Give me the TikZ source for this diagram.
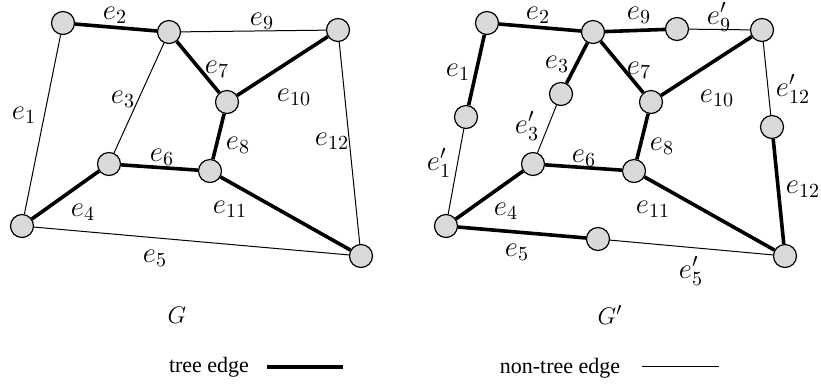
\documentclass[tikz,border=0pt]{standalone}
\usepackage{fontspec}
\setmainfont{Liberation Serif}

\begin{document}
\begin{tikzpicture}[x=0.5pt, y=-0.5pt,
        vtx/.style={circle, draw=black, line width=0.6pt, fill=black!15,
            inner sep=0pt, minimum size=11.5pt},
        tree/.style={line width=1.8pt},
        nontree/.style={line width=0.5pt},
        lbl/.style={font=\fontsize{14.5}{16}\selectfont, inner sep=0pt},
        title/.style={font=\fontsize{13}{15}\selectfont, inner sep=0pt},
        legtxt/.style={font=\fontsize{11}{13}\selectfont, inner sep=0pt}]

        \useasboundingbox (0,0) rectangle (821,388);

        % --- Graph G: vertices ---
        \node[vtx] (u1) at ( 63, 23) {};
        \node[vtx] (u2) at (169, 32) {};
        \node[vtx] (u3) at (338, 30) {};
        \node[vtx] (u4) at (227,102) {};
        \node[vtx] (u5) at (109,164) {};
        \node[vtx] (u6) at (210,171) {};
        \node[vtx] (u7) at ( 22,226) {};
        \node[vtx] (u8) at (361,256) {};

        % --- Graph G: edges ---
        \draw[nontree] (u1) -- (u7);
        \draw[tree]    (u1) -- (u2);
        \draw[nontree] (u2) -- (u5);
        \draw[tree]    (u7) -- (u5);
        \draw[nontree] (u7) -- (u8);
        \draw[tree]    (u5) -- (u6);
        \draw[tree]    (u2) -- (u4);
        \draw[tree]    (u4) -- (u6);
        \draw[nontree] (u2) -- (u3);
        \draw[tree]    (u4) -- (u3);
        \draw[tree]    (u6) -- (u8);
        \draw[nontree] (u3) -- (u8);

        % --- Graph G: edge labels ---
        \node[lbl] (ga1)  at ( 24,115) {$e_{1}$};
        \node[lbl] (ga2)  at (115, 15) {$e_{2}$};
        \node[lbl] (ga3)  at (123, 99) {$e_{3}$};
        \node[lbl] (ga4)  at ( 83,212) {$e_{4}$};
        \node[lbl] (ga5)  at (155,258) {$e_{5}$};
        \node[lbl] (ga6)  at (162,157) {$e_{6}$};
        \node[lbl] (ga7)  at (217, 69) {$e_{7}$};
        \node[lbl] (ga8)  at (238,145) {$e_{8}$};
        \node[lbl] (ga9)  at (262, 21) {$e_{9}$};
        \node[lbl] (ga10) at (294, 97) {$e_{10}$};
        \node[lbl] (ga11) at (230,209) {$e_{11}$};
        \node[lbl] (ga12) at (332,141) {$e_{12}$};

        % --- Graph G': vertices ---
        \node[vtx] (w1) at (487, 23) {};
        \node[vtx] (w2) at (593, 32) {};
        \node[vtx] (w3) at (762, 30) {};
        \node[vtx] (w4) at (651,102) {};
        \node[vtx] (w5) at (533,164) {};
        \node[vtx] (w6) at (634,171) {};
        \node[vtx] (w7) at (446,226) {};
        \node[vtx] (w8) at (785,256) {};

        % --- Graph G': subdivision vertices ---
        \node[vtx] (s1)  at (466,117) {};
        \node[vtx] (s3)  at (561, 94) {};
        \node[vtx] (s5)  at (598,239) {};
        \node[vtx] (s9)  at (677, 29) {};
        \node[vtx] (s12) at (772,127) {};

        % --- Graph G': edges ---
        \draw[tree]    (w1) -- (s1);
        \draw[nontree] (s1) -- (w7);
        \draw[tree]    (w1) -- (w2);
        \draw[tree]    (w2) -- (s3);
        \draw[nontree] (s3) -- (w5);
        \draw[tree]    (w7) -- (w5);
        \draw[tree]    (w7) -- (s5);
        \draw[nontree] (s5) -- (w8);
        \draw[tree]    (w5) -- (w6);
        \draw[tree]    (w2) -- (w4);
        \draw[tree]    (w4) -- (w6);
        \draw[tree]    (w2) -- (s9);
        \draw[nontree] (s9) -- (w3);
        \draw[tree]    (w4) -- (w3);
        \draw[tree]    (w6) -- (w8);
        \draw[nontree] (w3) -- (s12);
        \draw[tree]    (s12) -- (w8);

        % --- Graph G': edge labels ---
        \node[lbl] (gb1)  at (458, 72) {$e_{1}$};
        \node[lbl] (gb1p) at (439,163) {$e_{1}'$};
        \node[lbl] (gb2)  at (538, 15) {$e_{2}$};
        \node[lbl] (gb3)  at (557, 64) {$e_{3}$};
        \node[lbl] (gb3p) at (527,126) {$e_{3}'$};
        \node[lbl] (gb4)  at (506,211) {$e_{4}$};
        \node[lbl] (gb5)  at (517,252) {$e_{5}$};
        \node[lbl] (gb5p) at (691,271) {$e_{5}'$};
        \node[lbl] (gb6)  at (584,158) {$e_{6}$};
        \node[lbl] (gb7)  at (639, 70) {$e_{7}$};
        \node[lbl] (gb8)  at (662,146) {$e_{8}$};
        \node[lbl] (gb9)  at (639, 15) {$e_{9}$};
        \node[lbl] (gb9p) at (719, 17) {$e_{9}'$};
        \node[lbl] (gb10) at (717, 98) {$e_{10}$};
        \node[lbl] (gb11) at (653,209) {$e_{11}$};
        \node[lbl] (gb12) at (803,189) {$e_{12}$};
        \node[lbl] (gb12p) at (793, 89) {$e_{12}'$};

        % --- Captions ---
        \node[title] (capG)  at (177,315) {$G$};
        \node[title] (capGp) at (610,315) {$G'$};

        % --- Legend ---
        \node[legtxt] (legT) at (209,367) {tree edge};
        \coordinate (legT1) at (267,367);
        \coordinate (legT2) at (343,367);
        \draw[line width=2pt] (legT1) -- (legT2);

        \node[legtxt] (legN) at (560,368) {non-tree edge};
        \coordinate (legN1) at (642,366);
        \coordinate (legN2) at (719,366);
        \draw[nontree] (legN1) -- (legN2);

    \end{tikzpicture}
\end{document}
